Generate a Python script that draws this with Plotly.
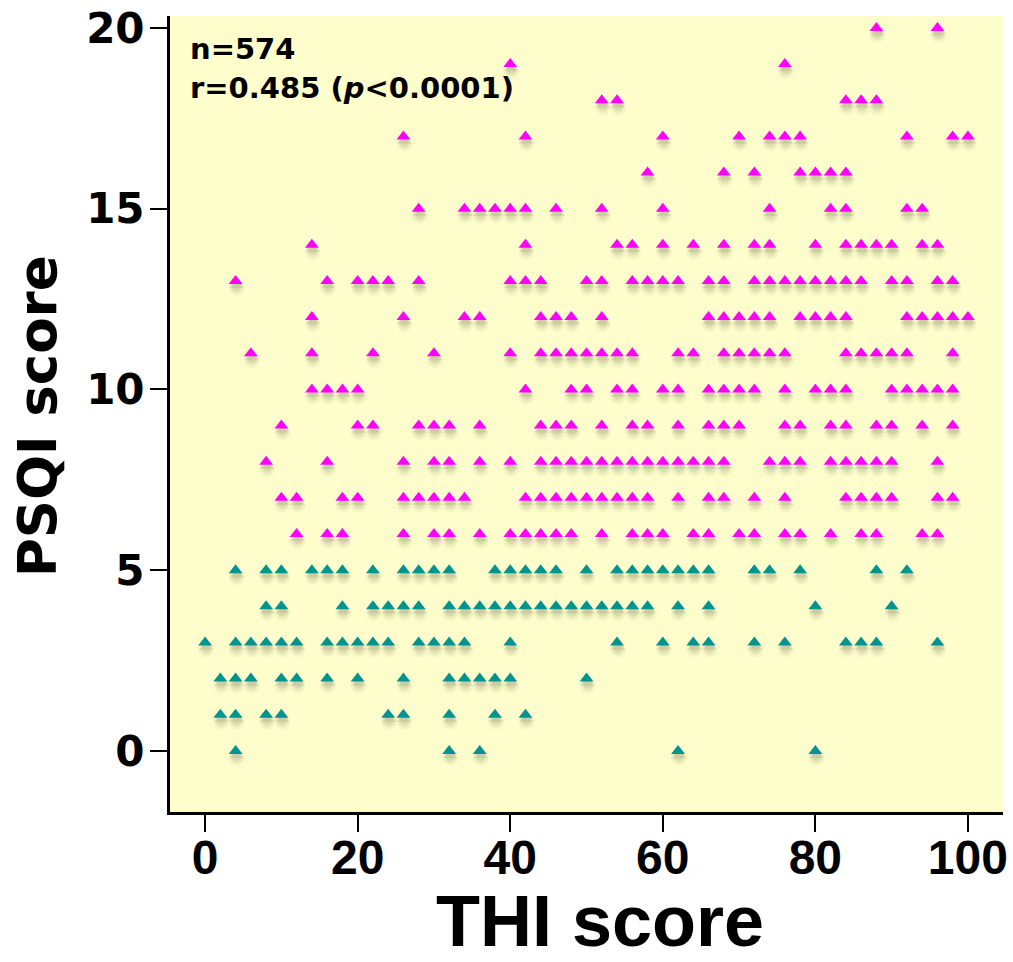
import plotly.graph_objects as go

# THI scores recorded at each PSQI score (0-20)
thi_psqi_0 = [4, 32, 36, 62, 80]
thi_psqi_1 = [2, 4, 8, 10, 24, 26, 32, 38, 42]
thi_psqi_2 = [2, 4, 6, 10, 12, 16, 20, 26, 32, 34, 36, 38, 40, 50]
thi_psqi_3 = [0, 4, 6, 8, 10, 12, 16, 18, 20, 22, 24, 28, 30, 32, 34, 40, 54, 60,
              64, 66, 72, 76, 84, 86, 88, 96]
thi_psqi_4 = [8, 10, 18, 22, 24, 26, 28, 32, 34, 36, 38, 40, 42, 44, 46, 48, 50, 52,
              54, 56, 58, 62, 66, 80, 90]
thi_psqi_5 = [4, 8, 10, 14, 16, 18, 22, 26, 28, 30, 32, 38, 40, 42, 44, 46, 50, 54,
              56, 58, 60, 62, 64, 66, 72, 74, 78, 88, 92]
thi_psqi_6 = [12, 16, 18, 26, 30, 32, 36, 40, 42, 44, 46, 48, 52, 56, 58, 60, 64, 66,
              70, 72, 76, 78, 82, 86, 88, 94, 96]
thi_psqi_7 = [10, 12, 18, 20, 26, 28, 30, 32, 34, 42, 44, 46, 48, 50, 52, 54, 56, 58,
              62, 66, 68, 72, 76, 84, 86, 88, 90, 96, 98]
thi_psqi_8 = [8, 16, 26, 30, 32, 36, 40, 44, 46, 48, 50, 52, 54, 56, 58, 60, 62, 64,
              66, 68, 74, 76, 78, 82, 84, 86, 88, 90, 96]
thi_psqi_9 = [10, 20, 22, 28, 30, 32, 36, 44, 46, 48, 52, 56, 58, 62, 66, 68, 70, 76,
              78, 82, 84, 88, 90, 94, 98]
thi_psqi_10 = [14, 16, 18, 20, 42, 48, 50, 54, 56, 60, 62, 66, 68, 70, 72, 76, 80, 82,
               84, 90, 92, 94, 96, 98]
thi_psqi_11 = [6, 14, 22, 30, 40, 44, 46, 48, 50, 52, 54, 56, 62, 64, 68, 70, 72, 74,
               76, 84, 86, 88, 90, 92, 98]
thi_psqi_12 = [14, 26, 34, 36, 44, 46, 48, 52, 66, 68, 70, 72, 74, 78, 80, 82, 84, 92,
               94, 96, 98, 100]
thi_psqi_13 = [4, 16, 20, 22, 24, 28, 40, 42, 44, 50, 52, 56, 58, 60, 62, 66, 68, 72,
               74, 76, 78, 80, 82, 84, 86, 90, 92, 96, 98]
thi_psqi_14 = [14, 42, 54, 56, 60, 64, 68, 72, 74, 80, 84, 86, 88, 90, 94, 96]
thi_psqi_15 = [28, 34, 36, 38, 40, 42, 46, 52, 60, 74, 82, 84, 92, 94]
thi_psqi_16 = [58, 68, 72, 78, 80, 82, 84]
thi_psqi_17 = [26, 42, 60, 70, 74, 76, 78, 92, 98, 100]
thi_psqi_18 = [52, 54, 84, 86, 88]
thi_psqi_19 = [40, 76]
thi_psqi_20 = [88, 96]

rows = [thi_psqi_0, thi_psqi_1, thi_psqi_2, thi_psqi_3, thi_psqi_4, thi_psqi_5,
        thi_psqi_6, thi_psqi_7, thi_psqi_8, thi_psqi_9, thi_psqi_10, thi_psqi_11,
        thi_psqi_12, thi_psqi_13, thi_psqi_14, thi_psqi_15, thi_psqi_16, thi_psqi_17,
        thi_psqi_18, thi_psqi_19, thi_psqi_20]

x_ticks = [0, 20, 40, 60, 80, 100]
y_ticks = [0, 5, 10, 15, 20]
x_title = "THI score"
y_title = "PSQI score"
n_label = "n=574"
r_label = "r=0.485 (<i>p</i>&lt;0.0001)"

PSQI_CUTOFF = 5
GOOD_COLOR = "#00938F"
POOR_COLOR = "#FF00FF"

good_x, good_y, poor_x, poor_y = [], [], [], []
for psqi, thi_list in enumerate(rows):
    for thi in thi_list:
        if psqi <= PSQI_CUTOFF:
            good_x.append(thi)
            good_y.append(psqi)
        else:
            poor_x.append(thi)
            poor_y.append(psqi)

W, H = 1013, 962
margin = dict(l=170, r=10, t=16, b=150)
x_range = [-4.6, 104.6]
y_range = [-1.69, 20.33]
plot_w = W - margin["l"] - margin["r"]
plot_h = H - margin["t"] - margin["b"]
px_x = (x_range[1] - x_range[0]) / plot_w
px_y = (y_range[1] - y_range[0]) / plot_h


def paper_x(px):
    return (px - margin["l"]) / plot_w


def paper_y(px):
    return 1 - (px - margin["t"]) / plot_h


all_x = good_x + poor_x
all_y = good_y + poor_y

fig = go.Figure()

# soft drop shadow under each triangle, built from a few translucent layers
shadow_layers = [
    ("circle", 16, 0.05, 1.0, 7.0),
    ("circle", 12, 0.08, 1.0, 6.5),
    ("triangle-up", 13, 0.12, 1.0, 4.0),
    ("circle", 8, 0.10, 1.0, 6.0),
]
for symbol, size, alpha, ox, oy in shadow_layers:
    fig.add_trace(go.Scatter(
        x=[v + ox * px_x for v in all_x],
        y=[v - oy * px_y for v in all_y],
        mode="markers",
        marker=dict(symbol=symbol, size=size,
                    color=f"rgba(100,100,70,{alpha})", line=dict(width=0)),
        hoverinfo="skip",
    ))

fig.add_trace(go.Scatter(
    x=good_x, y=good_y, mode="markers", name="PSQI ≤ 5",
    marker=dict(symbol="triangle-up", size=12, color=GOOD_COLOR, line=dict(width=0)),
))
fig.add_trace(go.Scatter(
    x=poor_x, y=poor_y, mode="markers", name="PSQI > 5",
    marker=dict(symbol="triangle-up", size=12, color=POOR_COLOR, line=dict(width=0)),
))

fig.update_layout(
    width=W, height=H, margin=margin,
    plot_bgcolor="#FEFDCC", paper_bgcolor="white",
    showlegend=False,
    xaxis=dict(
        range=x_range, tickvals=x_ticks, ticktext=[str(v) for v in x_ticks],
        ticks="outside", ticklen=17, tickwidth=2, tickcolor="black",
        showline=True, linewidth=3, linecolor="black",
        showgrid=False, zeroline=False, automargin=False, ticklabelstandoff=-16,
        tickfont=dict(family="Liberation Sans", size=48,
                      color="black", weight="bold"),
    ),
    yaxis=dict(
        range=y_range, tickvals=y_ticks, ticktext=[str(v) for v in y_ticks],
        ticks="outside", ticklen=17, tickwidth=2, tickcolor="black",
        showline=True, linewidth=3, linecolor="black",
        showgrid=False, zeroline=False, automargin=False, ticklabelstandoff=-3,
        tickfont=dict(family="DejaVu Sans", size=42, color="black", weight="bold"),
    ),
    annotations=[
        dict(text=x_title, xref="paper", yref="paper",
             x=paper_x(600), y=paper_y(921), xanchor="center", yanchor="middle",
             showarrow=False,
             font=dict(family="Liberation Sans", size=72, color="black",
                       weight="bold")),
        dict(text=y_title, xref="paper", yref="paper", textangle=-90,
             x=paper_x(38), y=paper_y(416), xanchor="center", yanchor="middle",
             showarrow=False,
             font=dict(family="DejaVu Sans", size=53, color="black",
                       weight="bold")),
        dict(text=n_label, xref="paper", yref="paper",
             x=paper_x(188), y=paper_y(49),
             xanchor="left", yanchor="middle", showarrow=False,
             font=dict(family="DejaVu Sans", size=29, color="black", weight="bold")),
        dict(text=r_label, xref="paper", yref="paper",
             x=paper_x(188), y=paper_y(88),
             xanchor="left", yanchor="middle", showarrow=False,
             font=dict(family="DejaVu Sans", size=29, color="black", weight="bold")),
    ],
)

fig.write_html("out.html")
